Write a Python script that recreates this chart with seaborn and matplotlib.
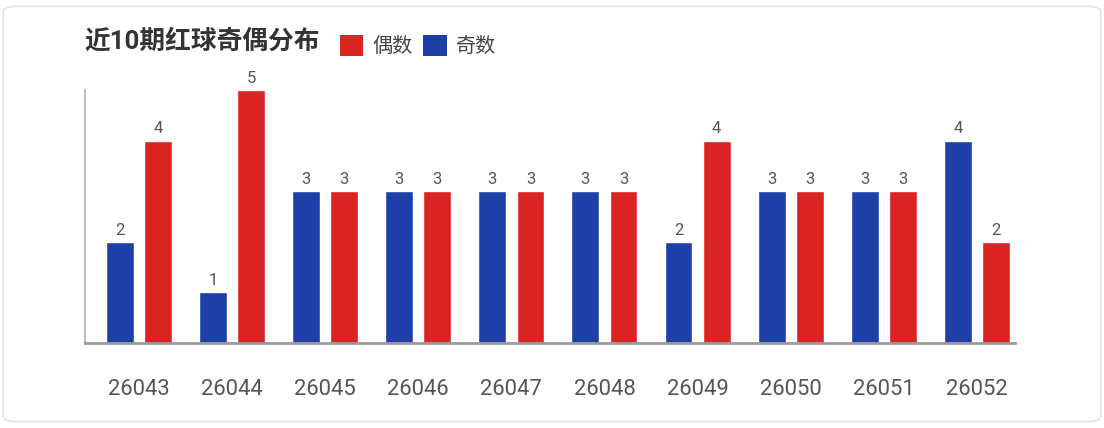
import numpy as np
import pandas as pd
import matplotlib
matplotlib.use("Agg")
import matplotlib.pyplot as plt
import seaborn as sns
from matplotlib.patches import FancyBboxPatch, Patch

# data
periods = ["26043", "26044", "26045", "26046", "26047",
           "26048", "26049", "26050", "26051", "26052"]
odd_counts = [2, 1, 3, 3, 3, 3, 2, 3, 3, 4]
even_counts = [4, 5, 3, 3, 3, 3, 4, 3, 3, 2]

odd_name = "奇数"
even_name = "偶数"
blue = "#1f3fa8"
red = "#da2424"

df = pd.DataFrame({
    "period": periods * 2,
    "type": [odd_name] * len(periods) + [even_name] * len(periods),
    "count": odd_counts + even_counts,
})

sns.set_theme(style="white")
plt.rcParams["font.family"] = ["Roboto", "Noto Sans CJK SC", "DejaVu Sans"]

fig = plt.figure(figsize=(11.04, 4.28), dpi=100)
fig.patch.set_facecolor("white")

# card border
card = FancyBboxPatch((0.003, 0.015), 0.994, 0.97,
                      boxstyle="round,pad=0,rounding_size=0.012",
                      transform=fig.transFigure, facecolor="none",
                      edgecolor="#e3e3e3", linewidth=1.2, zorder=-1)
fig.patches.append(card)

ax = fig.add_axes([0.077, 0.1986, 0.8424, 0.5911])
ax.set_facecolor("none")

sns.barplot(data=df, x="period", y="count", hue="type",
            hue_order=[odd_name, even_name],
            palette={odd_name: blue, even_name: red},
            width=0.82, gap=0.27, saturation=1, ax=ax, legend=False)

for cont in ax.containers:
    ax.bar_label(cont, padding=3, color="#555555", fontsize=12)

ax.set_xlim(-0.58, 9.41)
ax.set_ylim(0, 5)
ax.set_xlabel("")
ax.set_ylabel("")
ax.set_yticks([])
ax.tick_params(axis="x", length=0, pad=26, labelsize=15.8, labelcolor="#555555")

for side in ["top", "right"]:
    ax.spines[side].set_visible(False)
ax.spines["bottom"].set_color("#9a9a9a")
ax.spines["bottom"].set_linewidth(2)
ax.spines["left"].set_color("#bdbdbd")
ax.spines["left"].set_linewidth(1.5)

fig.text(0.076, 0.903, "近10期红球奇偶分布", fontsize=18.5, fontweight="bold",
         color="#333333", va="center", ha="left")

handles = [Patch(facecolor=red, edgecolor="none", label=even_name),
           Patch(facecolor=blue, edgecolor="none", label=odd_name)]
fig.legend(handles=handles, loc="center left", bbox_to_anchor=(0.3005, 0.893),
           ncol=2, frameon=False, fontsize=14.5, handlelength=1.15,
           handleheight=1.2, handletextpad=0.45, columnspacing=0.55,
           labelcolor="#444444", borderaxespad=0)

fig.savefig("out.png", dpi=100, facecolor="white")
